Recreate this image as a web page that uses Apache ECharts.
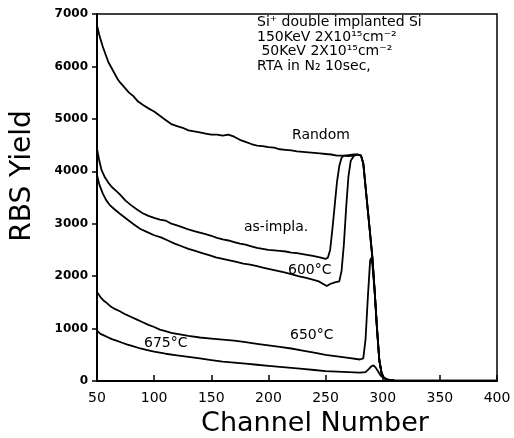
<!DOCTYPE html>
<html>
<head>
<meta charset="utf-8">
<title>RBS Yield</title>
<script src="https://cdn.jsdelivr.net/npm/echarts@6/dist/echarts.min.js"></script>
<style>
html, body { margin: 0; padding: 0; background: #fff; }
#main { width: 514px; height: 438px; }
</style>
</head>
<body>
<div id="main"></div>
<script>
// channel / yield pairs
var random = [
  [50,6780],[52,6600],[55,6380],[58,6200],[60,6080],[63,5960],[65,5880],[68,5760],[70,5700],
  [74,5600],[78,5500],[82,5430],[86,5330],[90,5270],[95,5200],[100,5140],[105,5060],[110,4980],
  [115,4900],[120,4860],[125,4830],[130,4780],[135,4760],[140,4740],[145,4720],[150,4700],
  [155,4700],[160,4680],[165,4700],[170,4660],[175,4600],[180,4560],[185,4520],[190,4490],
  [195,4480],[200,4460],[205,4450],[210,4420],[215,4410],[220,4400],[225,4380],[230,4370],
  [235,4360],[240,4350],[245,4340],[250,4330],[255,4320],[260,4300],[265,4300],[270,4290],
  [275,4300],[278,4320],[281,4300],[283,4150],[285,3700],[287,3250],[289,2800],[291,2350],
  [293,1700],[295,1000],[297,400],[299,150],[301,60],[304,20],[310,10],[320,5],[400,5]
];
var asImpla = [
  [50,4430],[52,4200],[54,4020],[57,3880],[60,3780],[63,3700],[66,3640],[70,3560],[75,3440],
  [80,3350],[85,3270],[90,3200],[95,3150],[100,3110],[105,3080],[110,3060],[115,3000],
  [120,2970],[125,2930],[130,2890],[135,2860],[140,2830],[145,2800],[150,2770],[155,2730],
  [160,2700],[165,2680],[170,2650],[175,2620],[180,2600],[185,2570],[190,2540],[195,2520],
  [200,2500],[205,2490],[210,2480],[215,2470],[220,2450],[225,2440],[230,2420],[235,2400],
  [240,2380],[245,2360],[250,2330],[252,2350],[254,2500],[256,2900],[258,3350],[260,3800],
  [262,4100],[264,4260],[266,4300],[270,4310],[275,4320],[278,4320],[281,4300],[283,4150],
  [285,3700],[287,3250],[289,2800],[291,2350],[293,1700],[295,1000],[297,400],[299,150],
  [301,60],[304,20],[310,10]
];
var anneal600 = [
  [50,3930],[52,3750],[55,3580],[58,3450],[61,3360],[65,3280],[70,3190],[76,3090],[82,2990],
  [88,2900],[94,2840],[100,2780],[106,2740],[112,2680],[118,2620],[124,2570],[130,2520],
  [136,2480],[142,2440],[148,2400],[154,2360],[160,2330],[166,2300],[172,2270],[178,2240],
  [184,2220],[190,2190],[196,2160],[202,2130],[208,2100],[214,2070],[220,2040],[226,2000],
  [232,1970],[238,1940],[244,1900],[248,1850],[251,1810],[254,1850],[258,1880],[262,1900],
  [264,2100],[266,2600],[268,3300],[270,3900],[272,4200],[275,4300],[278,4320],[281,4300],
  [283,4150],[285,3700],[287,3250],[289,2800],[291,2350],[293,1700],[295,1000],[297,400],
  [299,150],[301,60],[304,20],[310,10]
];
var anneal650 = [
  [50,1700],[53,1600],[56,1530],[59,1480],[62,1420],[66,1370],[70,1330],[75,1270],[80,1220],
  [85,1170],[90,1120],[95,1070],[100,1030],[105,980],[110,950],[115,920],[120,900],[125,880],
  [130,860],[140,830],[150,810],[160,790],[170,770],[180,740],[190,710],[200,680],[210,650],
  [220,620],[230,580],[240,540],[250,500],[260,470],[270,440],[280,410],[283,430],[285,800],
  [287,1600],[289,2300],[290,2350],[291,2200],[293,1700],[295,1000],[297,400],[299,150],
  [301,60],[304,20],[310,10]
];
var anneal675 = [
  [50,960],[53,900],[56,870],[59,840],[63,800],[67,770],[72,730],[76,700],[82,660],[88,620],
  [94,590],[100,560],[110,520],[120,490],[130,460],[140,430],[150,400],[160,370],[170,350],
  [180,330],[190,310],[200,290],[210,270],[220,250],[230,230],[240,210],[250,190],[260,180],
  [270,170],[280,160],[285,170],[288,230],[290,280],[292,300],[294,250],[296,180],[298,110],
  [300,70],[303,40],[306,20],[310,10],[320,5],[400,5]
];
var channelMin = 50, channelMax = 400, channelStep = 50;
var yieldMin = 0, yieldMax = 7000, yieldStep = 1000;

var note = [
  'Si⁺ double implanted Si',
  '150KeV 2X10¹⁵cm⁻²',
  ' 50KeV 2X10¹⁵cm⁻²',
  'RTA in N₂ 10sec,'
];

var myChart = echarts.init(document.getElementById('main'));

function curve(name, data) {
  return {
    name: name,
    type: 'line',
    data: data,
    showSymbol: false,
    lineStyle: { color: '#000', width: 1.8 },
    z: 3
  };
}

function txt(x, y, s, size, extra) {
  var o = {
    type: 'text', x: x, y: y, z: 10,
    style: {
      text: s, fill: '#000',
      font: (size || 14) + 'px "DejaVu Sans"',
      align: 'left', verticalAlign: 'middle'
    }
  };
  if (extra) for (var k in extra) o[k] = extra[k];
  return o;
}

var option = {
  animation: false,
  grid: {
    left: 97, right: 17, top: 14, bottom: 57,
    show: true, borderColor: '#000', borderWidth: 1.5
  },
  xAxis: {
    type: 'value',
    min: channelMin, max: channelMax, interval: channelStep,
    axisLine: { lineStyle: { color: '#000', width: 2 } },
    axisTick: { inside: true, length: 6, lineStyle: { color: '#000', width: 1.5 } },
    axisLabel: { color: '#000', fontSize: 14, fontFamily: 'DejaVu Sans', margin: 10 },
    splitLine: { show: false }
  },
  yAxis: {
    type: 'value',
    min: yieldMin, max: yieldMax, interval: yieldStep,
    axisLine: { show: true, lineStyle: { color: '#000', width: 2 } },
    axisTick: { show: true, inside: false, length: 5, lineStyle: { color: '#000', width: 1.5 } },
    axisLabel: {
      color: '#000', fontSize: 12, fontWeight: 'bold', fontFamily: 'DejaVu Sans', margin: 9,
      formatter: function (v) { return String(v); }
    },
    splitLine: { show: false }
  },
  series: [
    curve('Random', random),
    curve('as-impla.', asImpla),
    curve('600°C', anneal600),
    curve('650°C', anneal650),
    curve('675°C', anneal675)
  ],
  graphic: [
    txt(23, 176, 'RBS Yield', 28, { rotation: Math.PI / 2, style: { text: 'RBS Yield', fill: '#000', font: '28px "DejaVu Sans"', align: 'center', verticalAlign: 'middle' } }),
    txt(315, 424, 'Channel Number', 27, { style: { text: 'Channel Number', fill: '#000', font: '27px "DejaVu Sans"', align: 'center', verticalAlign: 'middle' } }),
    txt(257, 22, note[0], 14),
    txt(257, 37, note[1], 14),
    txt(257, 51, note[2], 14),
    txt(257, 66, note[3], 14),
    txt(292, 135, 'Random', 14),
    txt(244, 227, 'as-impla.', 14),
    txt(288, 270, '600°C', 14),
    txt(290, 335, '650°C', 14),
    txt(144, 343, '675°C', 14)
  ]
};

myChart.setOption(option);
</script>
</body>
</html>
